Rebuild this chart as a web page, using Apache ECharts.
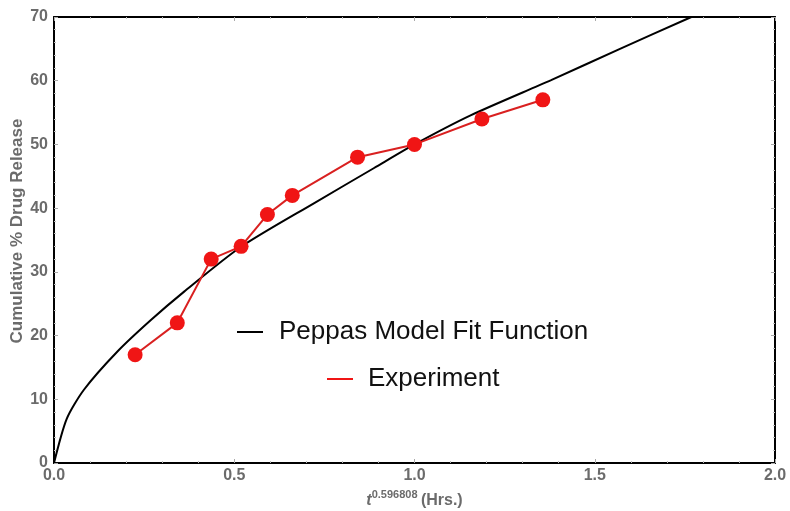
<!DOCTYPE html>
<html>
<head>
<meta charset="utf-8">
<script src="https://cdn.jsdelivr.net/npm/echarts@6/dist/echarts.min.js"></script>
<style>
html,body{margin:0;padding:0;background:#fff;}
#chart{width:790px;height:511px;}
</style>
</head>
<body>
<div id="chart"></div>
<script>
// Experiment data: x = t^0.596808 (Hrs.), y = cumulative % drug release
const expX = [0.225, 0.342, 0.436, 0.519, 0.592, 0.661, 0.842, 1.0, 1.187, 1.356];
const expY = [17, 22, 32, 34, 39, 42, 48, 50, 54, 57];
// Peppas model fit curve
const fitX = [0, 0.035, 0.083, 0.176, 0.268, 0.361, 0.518, 0.722, 0.888, 1.0, 1.157, 1.379, 1.57, 1.768];
const fitY = [0, 6.9, 11.5, 17.5, 22.4, 26.9, 33.9, 40.8, 46.3, 50.0, 54.6, 60.1, 65.0, 70.0];
const xTicks = ['0.0', '0.5', '1.0', '1.5', '2.0'];
const yTicks = ['0', '10', '20', '30', '40', '50', '60', '70'];
const seriesNames = ['Peppas Model Fit Function', 'Experiment'];

const zip = (a, b) => a.map((v, i) => [v, b[i]]);
const gray = '#6b6b6b';
const ff = 'Liberation Sans, Arial, sans-serif';
const labelFont = {color: gray, fontWeight: 'bold', fontSize: 16, fontFamily: ff};

const chart = echarts.init(document.getElementById('chart'), null, {renderer: 'canvas'});
const tickStyle = {show: true, inside: true, length: 4, lineStyle: {color: '#aaa', width: 1}};
const minorStyle = {show: true, splitNumber: 5, length: 2, lineStyle: {color: '#bbb', width: 1}};
chart.setOption({
  animation: false,
  backgroundColor: '#fff',
  grid: {left: 54, right: 15, top: 17, bottom: 48, show: false, containLabel: false, outerBoundsMode: 'none'},
  xAxis: [{
    type: 'value', min: 0, max: 2, interval: 0.5,
    axisLine: {show: true, onZero: false, lineStyle: {color: '#000', width: 2}},
    axisTick: tickStyle, minorTick: minorStyle,
    splitLine: {show: false},
    axisLabel: Object.assign({margin: 5, formatter: (v) => xTicks[Math.round(v / 0.5)]}, labelFont),
    name: '{i|t}{sup|0.596808} {n|(Hrs.)}',
    nameLocation: 'middle', nameGap: 26, nameMoveOverlap: false,
    nameTextStyle: {
      rich: {
        i: {fontStyle: 'italic', fontWeight: 'bold', fontSize: 16, color: gray, fontFamily: ff},
        sup: {fontSize: 11, fontWeight: 'bold', color: gray, padding: [0, 0, 12, 0], fontFamily: ff},
        n: {fontSize: 16, fontWeight: 'bold', color: gray, fontFamily: ff}
      }
    }
  }, {
    type: 'value', min: 0, max: 2, interval: 0.5, position: 'top',
    axisLine: {show: true, onZero: false, lineStyle: {color: '#000', width: 2}},
    axisTick: tickStyle, minorTick: minorStyle,
    splitLine: {show: false}, axisLabel: {show: false}
  }],
  yAxis: [{
    type: 'value', min: 0, max: 70, interval: 10,
    axisLine: {show: true, onZero: false, lineStyle: {color: '#000', width: 2}},
    axisTick: tickStyle, minorTick: minorStyle,
    splitLine: {show: false},
    axisLabel: Object.assign({margin: 6, formatter: (v) => yTicks[Math.round(v / 10)]}, labelFont),
    name: 'Cumulative % Drug Release',
    nameLocation: 'middle', nameGap: 28, nameMoveOverlap: false,
    nameTextStyle: {color: gray, fontWeight: 'bold', fontSize: 17, fontFamily: ff, padding: [0, 0, 0, 18]}
  }, {
    type: 'value', min: 0, max: 70, interval: 10, position: 'right',
    axisLine: {show: true, onZero: false, lineStyle: {color: '#000', width: 2}},
    axisTick: tickStyle, minorTick: minorStyle,
    splitLine: {show: false}, axisLabel: {show: false}
  }],
  legend: [{
    data: [seriesNames[0]], left: 237, top: 319, orient: 'vertical', padding: 0,
    icon: 'rect', itemWidth: 26, itemHeight: 2,
    textStyle: {fontSize: 26, color: '#111', padding: [0, 0, 0, 11], fontFamily: ff}
  }, {
    data: [seriesNames[1]], left: 327, top: 366, orient: 'vertical', padding: 0,
    icon: 'rect', itemWidth: 26, itemHeight: 2,
    textStyle: {fontSize: 26, color: '#111', padding: [0, 0, 0, 10], fontFamily: ff}
  }],
  series: [{
    name: seriesNames[0], type: 'line', data: zip(fitX, fitY),
    showSymbol: false, symbol: 'none', smooth: 0.25,
    color: '#000', lineStyle: {color: '#000', width: 2}, z: 3
  }, {
    name: seriesNames[1], type: 'line', data: zip(expX, expY),
    symbol: 'circle', symbolSize: 15,
    color: '#d92020',
    itemStyle: {color: '#f01515'},
    lineStyle: {color: '#d92020', width: 2}, z: 4
  }]
});
</script>
</body>
</html>
